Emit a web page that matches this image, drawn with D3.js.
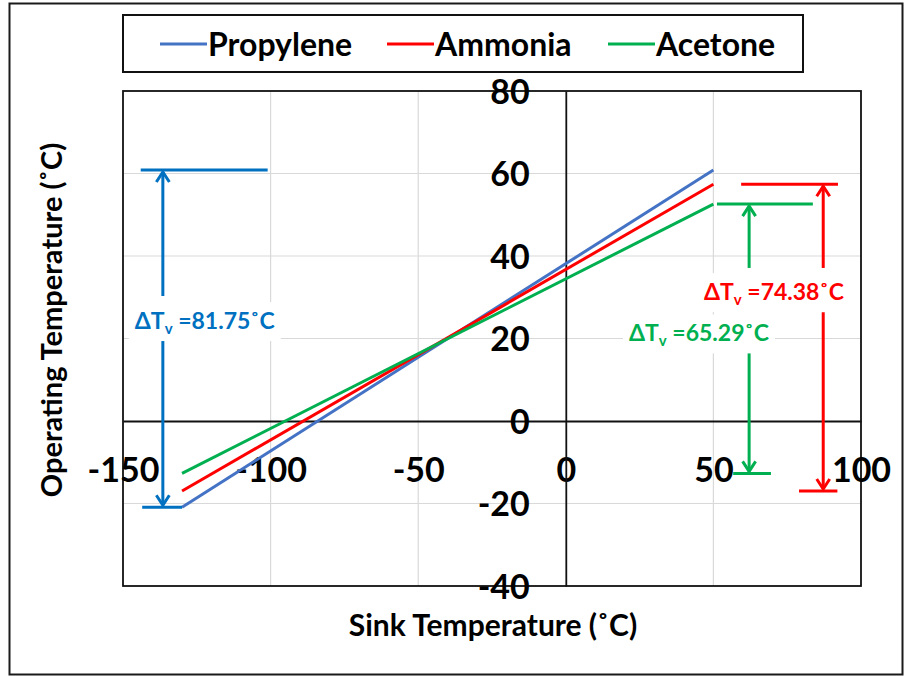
<!DOCTYPE html>
<html>
<head>
<meta charset="utf-8">
<script src="https://cdn.jsdelivr.net/npm/d3@7"></script>
<style>
  html, body { margin: 0; padding: 0; background: #fff; }
  svg text { font-family: Lato, "Open Sans", sans-serif; font-weight: 700; }
</style>
</head>
<body>
<svg id="chart" width="905" height="676"></svg>
<script>
// Operating temperature of each working fluid against sink temperature
const sinkTemps = [-130, 50];
const seriesNames = ["Propylene", "Ammonia", "Acetone"];
const propylene = [-20.9, 60.85];
const ammonia = [-16.98, 57.4];
const acetone = [-12.7, 52.59];
const seriesColors = ["#4472C4", "#FF0000", "#00B050"];
const xTicks = [-150, -100, -50, 0, 50, 100];
const yTicks = [-40, -20, 0, 20, 40, 60, 80];

const seriesValues = [propylene, ammonia, acetone];
const series = seriesNames.map((name, i) => ({
  name,
  color: seriesColors[i],
  points: sinkTemps.map((t, j) => ({ x: t, y: seriesValues[i][j] }))
}));

const svg = d3.select("#chart");
const W = 905, H = 676;
const plot = { left: 123, right: 861, top: 91, bottom: 586 };

const x = d3.scaleLinear().domain([-150, 100]).range([plot.left, plot.right]);
const y = d3.scaleLinear().domain([-40, 80]).range([plot.bottom, plot.top]);

svg.append("rect").attr("width", W).attr("height", H).attr("fill", "#fff");
// outer frame
svg.append("rect")
  .attr("x", 9.5).attr("y", 3.5).attr("width", 893).attr("height", 671)
  .attr("fill", "none").attr("stroke", "#1a1a1a").attr("stroke-width", 2);

// plot area
svg.append("rect")
  .attr("x", plot.left).attr("y", plot.top)
  .attr("width", plot.right - plot.left).attr("height", plot.bottom - plot.top)
  .attr("fill", "#fff");

// gridlines
const grid = svg.append("g").attr("stroke", "#d9d9d9").attr("stroke-width", 1.2);
grid.selectAll("line.gx").data(xTicks.filter(v => v !== 0 && v > -150 && v < 100)).join("line")
  .attr("x1", d => x(d)).attr("x2", d => x(d))
  .attr("y1", plot.top).attr("y2", plot.bottom);
grid.selectAll("line.gy").data(yTicks.filter(v => v !== 0 && v > -40 && v < 80)).join("line")
  .attr("x1", plot.left).attr("x2", plot.right)
  .attr("y1", d => y(d)).attr("y2", d => y(d));

// plot border
svg.append("rect")
  .attr("x", plot.left).attr("y", plot.top)
  .attr("width", plot.right - plot.left).attr("height", plot.bottom - plot.top)
  .attr("fill", "none").attr("stroke", "#111").attr("stroke-width", 1.8);

// axes crossing at zero; plain hyphen for negative labels
const fmt = d => String(d);
const xAxis = d3.axisBottom(x).tickValues(xTicks).tickSize(0).tickFormat(fmt);
const yAxis = d3.axisLeft(y).tickValues(yTicks).tickSize(0).tickFormat(fmt);

const gx = svg.append("g").attr("transform", `translate(0,${y(0)})`).call(xAxis);
gx.select(".domain").attr("stroke", "#111").attr("stroke-width", 1.8);
gx.selectAll("text")
  .attr("y", 49).attr("dy", "0.36em")
  .attr("font-size", 34).attr("fill", "#000")
  .style("font-family", "Lato, sans-serif").style("font-weight", 700);

const gy = svg.append("g").attr("transform", `translate(${x(0)},0)`).call(yAxis);
gy.select(".domain").attr("stroke", "#111").attr("stroke-width", 1.8);
gy.selectAll("text")
  .attr("x", -36).attr("dy", "0.36em")
  .attr("font-size", 34).attr("fill", "#000")
  .style("font-family", "Lato, sans-serif").style("font-weight", 700);

// series lines
const line = d3.line().x(d => x(d.x)).y(d => y(d.y));
svg.append("g").selectAll("path").data(series).join("path")
  .attr("d", d => line(d.points))
  .attr("fill", "none")
  .attr("stroke", d => d.color)
  .attr("stroke-width", 3);

// ΔTv annotations: span between the lowest and highest operating temperature
const annColors = { Propylene: "#0070C0", Ammonia: "#FF0000", Acetone: "#00B050" };
const annLayout = {
  Propylene: { ax: -136.5, top: [-144, -101], bot: [-143.5, -130], lx: -122.3, ly: 24.3, gap: [30.3, 19.6] },
  Ammonia:   { ax: 87.2,  top: [59.4, 92.2],  bot: [79, 92],      lx: 70.5,  ly: 31.3, gap: [37.1, 26.4] },
  Acetone:   { ax: 62.1,  top: [51.2, 83.7],  bot: [56.7, 69.5],  lx: 45.1,  ly: 21.3, gap: [37.1, 16.5] }
};

function arrowHead(g, px, py, dir, color) {
  // open chevron; dir = -1 points up, +1 points down
  const len = 10, half = 6.5;
  g.append("path")
    .attr("d", `M${px - half},${py - dir * len} L${px},${py} L${px + half},${py - dir * len}`)
    .attr("fill", "none").attr("stroke", color).attr("stroke-width", 3)
    .attr("stroke-linejoin", "miter");
}

series.forEach(s => {
  const L = annLayout[s.name];
  const c = annColors[s.name];
  const lo = d3.min(s.points, p => p.y);
  const hi = d3.max(s.points, p => p.y);
  const g = svg.append("g");
  const ax = x(L.ax);
  // bounding bars
  g.append("line").attr("x1", x(L.top[0])).attr("x2", x(L.top[1]))
    .attr("y1", y(hi)).attr("y2", y(hi)).attr("stroke", c).attr("stroke-width", 3);
  g.append("line").attr("x1", x(L.bot[0])).attr("x2", x(L.bot[1]))
    .attr("y1", y(lo)).attr("y2", y(lo)).attr("stroke", c).attr("stroke-width", 3);
  // shafts broken around the label
  g.append("line").attr("x1", ax).attr("x2", ax)
    .attr("y1", y(hi) + 2).attr("y2", y(L.gap[0])).attr("stroke", c).attr("stroke-width", 3);
  g.append("line").attr("x1", ax).attr("x2", ax)
    .attr("y1", y(L.gap[1])).attr("y2", y(lo) - 2).attr("stroke", c).attr("stroke-width", 3);
  arrowHead(g, ax, y(hi) + 2, -1, c);
  arrowHead(g, ax, y(lo) - 2, 1, c);

  // label with white backing
  const t = g.append("text")
    .attr("x", x(L.lx)).attr("y", y(L.ly)).attr("dy", "0.36em")
    .attr("text-anchor", "middle").attr("font-size", 23).attr("fill", c);
  t.append("tspan").text("ΔT");
  t.append("tspan").text("v").attr("font-size", 15).attr("dy", 5);
  t.append("tspan").text(" =" + (hi - lo).toFixed(2) + "˚C").attr("dy", -5);
  const bb = t.node().getBBox();
  g.insert("rect", "text")
    .attr("x", bb.x - 6).attr("y", bb.y - 4)
    .attr("width", bb.width + 12).attr("height", bb.height + 8)
    .attr("fill", "#fff");
});

// legend
const lg = svg.append("g");
lg.append("rect").attr("x", 123).attr("y", 15).attr("width", 680).attr("height", 57)
  .attr("fill", "#fff").attr("stroke", "#111").attr("stroke-width", 2);
const legendX = [160, 387, 608];
series.forEach((s, i) => {
  lg.append("line").attr("x1", legendX[i]).attr("x2", legendX[i] + 47)
    .attr("y1", 44).attr("y2", 44).attr("stroke", s.color).attr("stroke-width", 3);
  lg.append("text").attr("x", legendX[i] + 48).attr("y", 44).attr("dy", "0.36em")
    .attr("font-size", 32).attr("fill", "#000").text(s.name);
});

// axis titles
svg.append("text").attr("x", 493).attr("y", 625).attr("dy", "0.36em")
  .attr("text-anchor", "middle").attr("font-size", 30).attr("fill", "#000")
  .text("Sink Temperature (˚C)");
svg.append("text").attr("transform", "translate(52,320) rotate(-90)").attr("dy", "0.36em")
  .attr("text-anchor", "middle").attr("font-size", 29).attr("fill", "#000")
  .text("Operating Temperature (˚C)");
</script>
</body>
</html>
